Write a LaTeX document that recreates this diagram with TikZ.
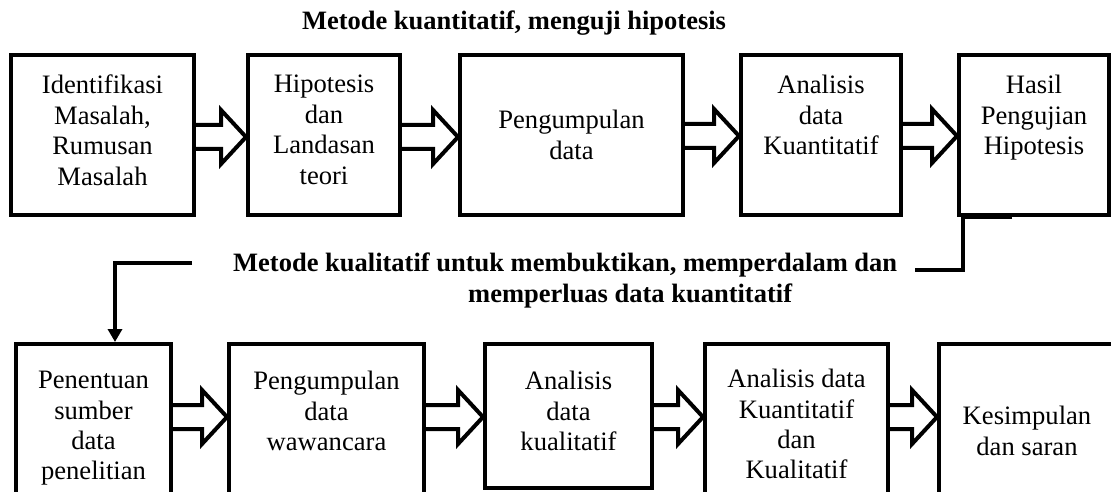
\documentclass[tikz,border=0pt]{standalone}
\usepackage{fontspec}
\setmainfont{Liberation Serif}
\usetikzlibrary{positioning,calc,arrows.meta}
\tikzset{
  box/.style={rectangle,draw=black,line width=4pt,fill=white,
              minimum height=160pt,inner sep=0pt},
  boxtext/.style={align=center,inner sep=0pt,
                  font=\fontsize{26.6pt}{30.4pt}\selectfont},
  headtext/.style={inner sep=0pt,font=\fontsize{26.5pt}{31pt}\selectfont\bfseries},
  fatarrow/.style={draw=black,line width=4pt,fill=white,line join=miter},
  linkline/.style={line width=4pt}
}
% hollow block arrow from box #1 to box #2, its axis at height #3
\newcommand{\fatarrow}[3]{%
  \coordinate (fa-y) at (0,#3);
  \path (#1.east |- fa-y) coordinate (fa-s) (#2.west |- fa-y) coordinate (fa-e);
  \draw[fatarrow] ($(fa-s)+(0,-12)$) -- ($(fa-e)+(-25,-12)$) -- ($(fa-e)+(-25,-27)$)
    -- (fa-e) -- ($(fa-e)+(-25,27)$) -- ($(fa-e)+(-25,12)$) -- ($(fa-s)+(0,12)$);
}

\begin{document}
\begin{tikzpicture}[x=1pt,y=-1pt]
  \useasboundingbox (0,0) rectangle (1111,492);
  \clip (0,0) rectangle (1111,492);

  % quantitative row
  \node[headtext, anchor=base] (kuan) at (514,30) {Metode kuantitatif, menguji hipotesis};

  \node[box, minimum width=183pt] (ident) at (102.5,135) {};
  \node[box, minimum width=152pt, right=50pt of ident] (hipo) {};
  \node[box, minimum width=223pt, right=56pt of hipo] (kumpul) {};
  \node[box, minimum width=160pt, right=54pt of kumpul] (anakuan) {};
  \node[box, minimum width=150pt, right=54pt of anakuan] (hasil) {};

  \node[boxtext, below=22pt of ident.north] (identtxt) {Identifikasi\\Masalah,\\Rumusan\\Masalah};
  \node[boxtext, below=22pt of hipo.north] (hipotxt) {Hipotesis\\dan\\Landasan\\teori};
  \node[boxtext] (kumpultxt) at (kumpul) {Pengumpulan\\data};
  \node[boxtext, below=22pt of anakuan.north] (anakuantxt) {Analisis\\data\\Kuantitatif};
  \node[boxtext, below=22pt of hasil.north] (hasiltxt) {Hasil\\Pengujian\\Hipotesis};

  \fatarrow{ident}{hipo}{137}
  \fatarrow{hipo}{kumpul}{137}
  \fatarrow{kumpul}{anakuan}{136}
  \fatarrow{anakuan}{hasil}{136}

  % qualitative row
  \node[headtext, align=left, anchor=north west] (kual) at (233,253)
    {Metode kualitatif untuk membuktikan, memperdalam dan\\\hspace*{235pt}memperluas data kuantitatif};

  \node[box, minimum width=155pt, minimum height=190pt, anchor=north] (sumber) at (93.5,342) {};
  \node[box, minimum width=195pt, minimum height=190pt, right=54pt of sumber.north east, anchor=north west] (wawan) {};
  \node[box, minimum width=167pt, minimum height=144pt, right=57pt of wawan.north east, anchor=north west] (anakual) {};
  \node[box, minimum width=183pt, minimum height=190pt, right=49pt of anakual.north east, anchor=north west] (anagab) {};
  \node[box, minimum width=176pt, minimum height=190pt, right=47pt of anagab.north east, anchor=north west] (simpul) {};

  \node[boxtext, below=29pt of sumber.north] (sumbertxt) {Penentuan\\sumber\\data\\penelitian};
  \node[boxtext, below=29pt of wawan.north] (wawantxt) {Pengumpulan\\data\\wawancara};
  \node[boxtext, below=29pt of anakual.north] (anakualtxt) {Analisis\\data\\kualitatif};
  \node[boxtext, below=27pt of anagab.north] (anagabtxt) {Analisis data\\Kuantitatif\\dan\\Kualitatif};
  \node[boxtext, below=64pt of simpul.north] (simpultxt) {Kesimpulan\\dan saran};

  \fatarrow{sumber}{wawan}{417}
  \fatarrow{wawan}{anakual}{417}
  \fatarrow{anakual}{anagab}{417}
  \fatarrow{anagab}{simpul}{417}

  % link from the first row down to the second
  \coordinate (kualright) at (915,270);
  \coordinate (kualleft) at (192,263);
  \draw[linkline] ([xshift=55pt]hasil.south west) -- ++(-49,0) |- (kualright);
  \draw[linkline, -{Triangle[length=13pt,width=14pt]}] (kualleft) -| ([xshift=21.5pt]sumber.north);
\end{tikzpicture}
\end{document}
